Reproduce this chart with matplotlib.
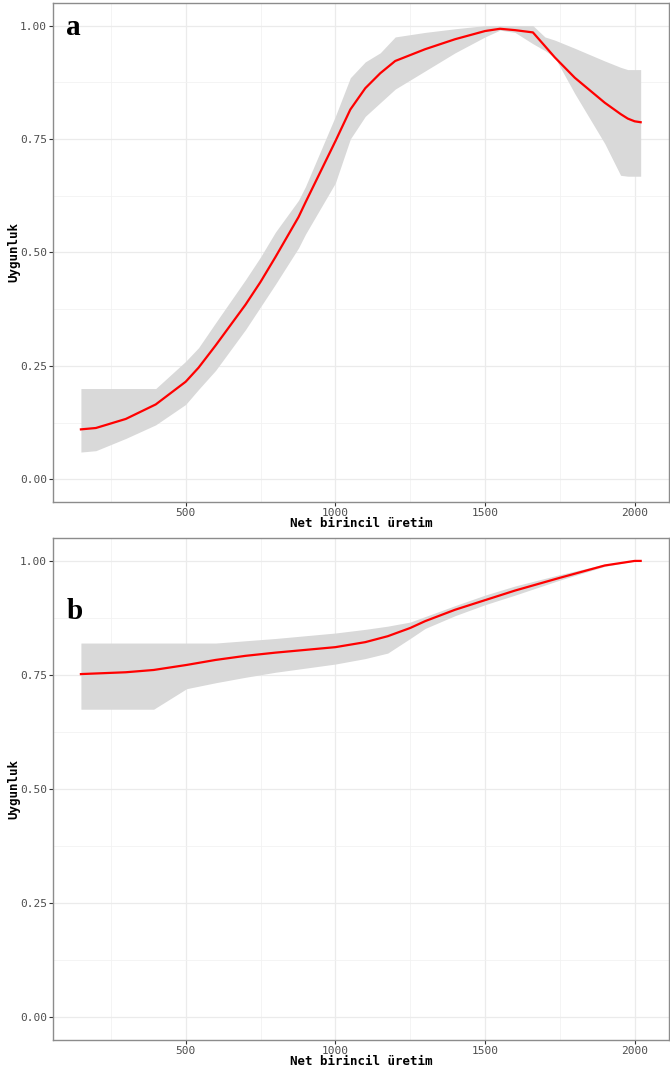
import matplotlib
matplotlib.use("Agg")
from matplotlib import pyplot as plt
from matplotlib.ticker import MultipleLocator

# Panel a: smoothed suitability vs net primary production
x_a = [150, 200, 300, 400, 500, 543, 600, 700, 750, 800, 877, 900, 1000, 1050, 1100, 1150, 1200,
       1300, 1400, 1500, 1550, 1600, 1660, 1700, 1733, 1800, 1900, 1953, 1977, 2000, 2020]
mean_a = [0.110, 0.113, 0.133, 0.165, 0.215, 0.246, 0.295, 0.385, 0.435, 0.49, 0.578, 0.61, 0.745,
          0.815, 0.862, 0.895, 0.922, 0.948, 0.970, 0.988, 0.993, 0.990, 0.985, 0.955, 0.93, 0.885,
          0.83, 0.805, 0.795, 0.789, 0.787]
upper_a = [0.20, 0.20, 0.20, 0.20, 0.26, 0.29, 0.345, 0.44, 0.49, 0.545, 0.615, 0.645, 0.80,
           0.885, 0.92, 0.94, 0.975, 0.985, 0.993, 1.0, 1.0, 1.0, 1.0, 0.975, 0.968, 0.95,
           0.922, 0.908, 0.903, 0.903, 0.903]
lower_a = [0.06, 0.063, 0.09, 0.12, 0.165, 0.198, 0.24, 0.33, 0.38, 0.43, 0.51, 0.54, 0.653,
           0.75, 0.80, 0.83, 0.86, 0.90, 0.94, 0.975, 0.99, 0.985, 0.96, 0.945, 0.93, 0.85,
           0.74, 0.67, 0.668, 0.668, 0.668]

# Panel b
x_b = [150, 300, 393, 503, 600, 700, 800, 900, 1000, 1100, 1175, 1250, 1300, 1400, 1500, 1600,
       1750, 1900, 2000, 2020]
mean_b = [0.752, 0.756, 0.761, 0.772, 0.783, 0.792, 0.799, 0.805, 0.811, 0.822, 0.835, 0.853,
          0.868, 0.893, 0.914, 0.935, 0.963, 0.99, 1.0, 1.0]
upper_b = [0.82, 0.82, 0.82, 0.82, 0.82, 0.825, 0.83, 0.836, 0.842, 0.85, 0.857, 0.866,
           0.878, 0.902, 0.925, 0.945, 0.97, 0.993, 1.0, 1.0]
lower_b = [0.675, 0.675, 0.675, 0.72, 0.733, 0.745, 0.756, 0.765, 0.774, 0.786, 0.798, 0.83,
           0.852, 0.88, 0.904, 0.925, 0.958, 0.988, 1.0, 1.0]

panels = [("a", x_a, mean_a, upper_a, lower_a), ("b", x_b, mean_b, upper_b, lower_b)]

x_label = "Net birincil üretim"
y_label = "Uygunluk"

mono = "DejaVu Sans Mono"
grid_col = "#EBEBEB"


def style_axes(ax):
    ax.set_xlim(56.5, 2113.5)
    ax.set_ylim(-0.05, 1.05)
    ax.xaxis.set_major_locator(MultipleLocator(500))
    ax.xaxis.set_minor_locator(MultipleLocator(250))
    ax.yaxis.set_major_locator(MultipleLocator(0.25))
    ax.yaxis.set_minor_locator(MultipleLocator(0.125))
    ax.yaxis.set_major_formatter(lambda v, p: f"{v:.2f}")
    ax.xaxis.set_major_formatter(lambda v, p: f"{v:.0f}")
    ax.grid(which="major", color=grid_col, linewidth=0.9)
    ax.grid(which="minor", color="#F2F2F2", linewidth=0.6)
    ax.set_axisbelow(True)
    for s in ax.spines.values():
        s.set_color("#8C8C8C")
        s.set_linewidth(1.0)
    ax.tick_params(which="major", length=3, width=0.8, color="#333333",
                   labelsize=8, labelcolor="#4D4D4D", pad=1.2)
    ax.tick_params(which="minor", length=0)
    for lab in ax.get_xticklabels() + ax.get_yticklabels():
        lab.set_family(mono)
    ax.set_xlabel(x_label, family=mono, fontweight="bold", fontsize=9, labelpad=-0.5)
    ax.set_ylabel(y_label, family=mono, fontweight="bold", fontsize=9, labelpad=0)


fig = plt.figure(figsize=(6.7, 10.79), dpi=100)
rects = [[0.079, 0.5348, 0.919, 0.4625], [0.079, 0.0361, 0.919, 0.4652]]

for rect, (tag, xs, m, up, lo) in zip(rects, panels):
    ax = fig.add_axes(rect)
    ax.fill_between(xs, lo, up, color="#D9D9D9", linewidth=0, zorder=2)
    ax.plot(xs, m, color="#FF0000", linewidth=1.6, zorder=3)
    style_axes(ax)
    ax.text(0.022, 0.978 if tag == "a" else 0.88, tag, transform=ax.transAxes,
            family="Liberation Serif", fontweight="bold", fontsize=21, va="top", ha="left")

fig.savefig("out.png", dpi=100)
